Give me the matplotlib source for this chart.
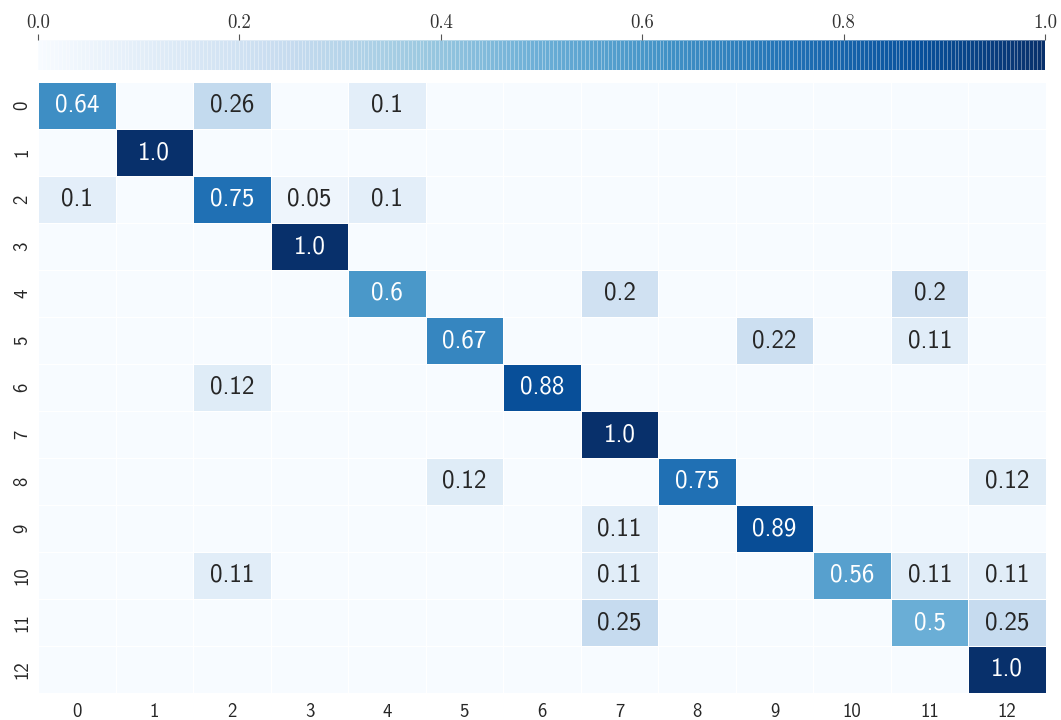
import numpy as np
import matplotlib
matplotlib.use("Agg")
import matplotlib.pyplot as plt
from matplotlib import colors as mcolors

# Row-normalised confusion matrix (rows: true class, columns: predicted class)
classes = list(range(13))
row_0 = [0.64, 0, 0.26, 0, 0.1, 0, 0, 0, 0, 0, 0, 0, 0]
row_1 = [0, 1.0, 0, 0, 0, 0, 0, 0, 0, 0, 0, 0, 0]
row_2 = [0.1, 0, 0.75, 0.05, 0.1, 0, 0, 0, 0, 0, 0, 0, 0]
row_3 = [0, 0, 0, 1.0, 0, 0, 0, 0, 0, 0, 0, 0, 0]
row_4 = [0, 0, 0, 0, 0.6, 0, 0, 0.2, 0, 0, 0, 0.2, 0]
row_5 = [0, 0, 0, 0, 0, 0.67, 0, 0, 0, 0.22, 0, 0.11, 0]
row_6 = [0, 0, 0.12, 0, 0, 0, 0.88, 0, 0, 0, 0, 0, 0]
row_7 = [0, 0, 0, 0, 0, 0, 0, 1.0, 0, 0, 0, 0, 0]
row_8 = [0, 0, 0, 0, 0, 0.12, 0, 0, 0.75, 0, 0, 0, 0.12]
row_9 = [0, 0, 0, 0, 0, 0, 0, 0.11, 0, 0.89, 0, 0, 0]
row_10 = [0, 0, 0.11, 0, 0, 0, 0, 0.11, 0, 0, 0.56, 0.11, 0.11]
row_11 = [0, 0, 0, 0, 0, 0, 0, 0.25, 0, 0, 0, 0.5, 0.25]
row_12 = [0, 0, 0, 0, 0, 0, 0, 0, 0, 0, 0, 0, 1.0]
cbar_ticks = [0.0, 0.2, 0.4, 0.6, 0.8, 1.0]

matrix = np.array([row_0, row_1, row_2, row_3, row_4, row_5, row_6,
                   row_7, row_8, row_9, row_10, row_11, row_12])

SANS = "cmss10"
SERIF = "cmr10"
cmap = plt.get_cmap("Blues")
norm = mcolors.Normalize(vmin=0.0, vmax=1.0)

fig = plt.figure(figsize=(10.61, 7.2), dpi=100)
ax = fig.add_axes([38 / 1061, 1 - 693 / 720, 1008 / 1061, 611 / 720])
cax = fig.add_axes([38 / 1061, 1 - 70 / 720, 1007 / 1061, 30 / 720])

n_rows, n_cols = matrix.shape
mesh = ax.pcolormesh(np.arange(n_cols + 1), np.arange(n_rows + 1), matrix,
                     cmap=cmap, norm=norm, edgecolors="white", linewidth=0.5)
ax.set_xlim(0, n_cols)
ax.set_ylim(n_rows, 0)
for s in ax.spines.values():
    s.set_visible(False)


def luminance(rgba):
    rgb = np.array(rgba[:3])
    lin = np.where(rgb <= 0.03928, rgb / 12.92, ((rgb + 0.055) / 1.055) ** 2.4)
    return 0.2126 * lin[0] + 0.7152 * lin[1] + 0.0722 * lin[2]


# Annotate only the non-zero cells
for i in range(n_rows):
    for j in range(n_cols):
        v = matrix[i, j]
        if v == 0:
            continue
        face = cmap(norm(v))
        color = "#262626" if luminance(face) > 0.408 else "white"
        ax.text(j + 0.5, i + 0.5, str(round(float(v), 2)), ha="center",
                va="center", color=color, fontsize=18, family=SANS)

ax.set_xticks(np.arange(n_cols) + 0.5)
ax.set_yticks(np.arange(n_rows) + 0.5)
ax.set_xticklabels([str(c) for c in classes], family=SANS, fontsize=13.5,
                   color="#262626")
ax.set_yticklabels([str(c) for c in classes], family=SANS, fontsize=13.5,
                   color="#262626", rotation=90, va="center")
ax.tick_params(axis="x", length=0, pad=7)
ax.tick_params(axis="y", length=0, pad=5)

# Horizontal colour bar above the matrix, ticks on top
cb = fig.colorbar(mesh, cax=cax, orientation="horizontal", ticks=cbar_ticks)
cb.outline.set_visible(False)
cb.solids.set_edgecolor((1, 1, 1, 0.35))
cb.solids.set_linewidth(0.4)
cax.xaxis.set_ticks_position("top")
cax.xaxis.set_label_position("top")
cax.set_xticklabels([f"{t:.1f}" for t in cbar_ticks], family=SERIF,
                    fontsize=13.5, color="#333333")
cax.tick_params(axis="x", length=4, width=0.8, color="#555555", pad=2)

fig.savefig("out.png", dpi=100, facecolor="white")
